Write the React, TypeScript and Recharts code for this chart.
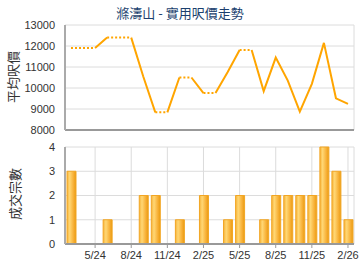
import React from 'react';
import { LineChart, Line, BarChart, Bar, XAxis, YAxis, CartesianGrid } from 'recharts';

const months = ['3/24','4/24','5/24','6/24','7/24','8/24','9/24','10/24','11/24','12/24','1/25','2/25','3/25','4/25','5/25','6/25','7/25','8/25','9/25','10/25','11/25','12/25','1/26','2/26'];
const prices = [11900,11900,11900,12400,12400,12400,10550,8840,8840,10500,10500,9760,9760,10750,11810,11810,9850,11450,10350,8870,10200,12150,9510,9240];
const counts = [3,0,0,1,0,0,2,2,0,1,0,2,0,1,2,0,1,2,2,2,2,4,3,1];
const xTicks = ['5/24','8/24','11/24','2/25','5/25','8/25','11/25','2/26'];
const priceTicks = [8000,9000,10000,11000,12000,13000];
const countTicks = [0,1,2,3,4];
const title = '滌濤山 - 實用呎價走勢';
const priceLabel = '平均呎價';
const countLabel = '成交宗數';

// Build segment series: segment i->i+1 dotted when month i+1 has no transactions.
function buildData() {
  const rows: any[] = months.map((m, i) => ({ month: m, count: counts[i], s0: null, s1: null, d0: null, d1: null }));
  let runStart = 0;
  let solidIdx = 0;
  let dotIdx = 0;
  const n = months.length;
  const isDot = (i: number) => counts[i + 1] === 0;
  for (let i = 0; i < n - 1; i++) {
    const end = i === n - 2 || isDot(i + 1) !== isDot(i);
    if (end) {
      const dotted = isDot(i);
      const key = dotted ? 'd' + (dotIdx++ % 2) : 's' + (solidIdx++ % 2);
      for (let k = runStart; k <= i + 1; k++) rows[k][key] = prices[k];
      runStart = i + 1;
    }
  }
  return rows;
}
const data = buildData();

const font = '"Liberation Sans", Arial, sans-serif';
const cjk = '"Noto Sans CJK TC", "Noto Sans", sans-serif';
const tickStyle = { fontSize: 11, fill: '#333', fontFamily: font };
const orange = '#FFA500';

export default function App() {
  return (
    <div style={{ position: 'absolute', left: 0, top: 0, width: 360, height: 270, background: '#fff', overflow: 'hidden' }}>
      <div style={{ position: 'absolute', left: 0, top: 5, width: 360, textAlign: 'center', fontFamily: cjk, fontSize: 13, color: '#1B3F6E', lineHeight: '16px' }}>{title}</div>
      <div style={{ position: 'absolute', left: 13, top: 77, transform: 'translate(-50%,-50%) rotate(-90deg)', fontFamily: cjk, fontSize: 13, color: '#333', whiteSpace: 'nowrap', lineHeight: '14px' }}>{priceLabel}</div>
      <div style={{ position: 'absolute', left: 15, top: 194, transform: 'translate(-50%,-50%) rotate(-90deg)', fontFamily: cjk, fontSize: 13, color: '#333', whiteSpace: 'nowrap', lineHeight: '14px' }}>{countLabel}</div>
      <div style={{ position: 'absolute', left: 0, top: 0 }}>
        <LineChart width={360} height={140} data={data} margin={{ top: 25, right: 6, bottom: 0, left: 0 }}>
          <CartesianGrid stroke="#dcdcdc" strokeWidth={1} />
          <XAxis dataKey="month" ticks={xTicks} tick={false} tickLine={false} height={10} padding={{ left: 6, right: 6 }} axisLine={{ stroke: '#999', strokeWidth: 2 }} />
          <YAxis domain={[8000, 13000]} ticks={priceTicks} width={65} tickSize={0} tickMargin={10} tick={tickStyle} axisLine={{ stroke: '#aaa', strokeWidth: 2 }} interval={0} />
          <Line dataKey="s0" stroke={orange} strokeWidth={2} dot={false} isAnimationActive={false} connectNulls={false} />
          <Line dataKey="s1" stroke={orange} strokeWidth={2} dot={false} isAnimationActive={false} connectNulls={false} />
          <Line dataKey="d0" stroke={orange} strokeWidth={2} strokeDasharray="2 2" dot={false} isAnimationActive={false} connectNulls={false} />
          <Line dataKey="d1" stroke={orange} strokeWidth={2} strokeDasharray="2 2" dot={false} isAnimationActive={false} connectNulls={false} />
        </LineChart>
      </div>
      <div style={{ position: 'absolute', left: 0, top: 140 }}>
        <BarChart width={360} height={130} data={data} margin={{ top: 7, right: 6, bottom: 0, left: 0 }}>
          <defs>
            <linearGradient id="barGrad" x1="0" y1="0" x2="1" y2="0">
              <stop offset="0%" stopColor="#F6B33A" />
              <stop offset="30%" stopColor="#FFD774" />
              <stop offset="70%" stopColor="#F8B23A" />
              <stop offset="100%" stopColor="#E99A10" />
            </linearGradient>
          </defs>
          <CartesianGrid stroke="#dcdcdc" strokeWidth={1} />
          <XAxis dataKey="month" ticks={xTicks} interval={0} height={26} tickSize={4} tickMargin={3} tick={tickStyle} tickLine={{ stroke: '#999' }} axisLine={{ stroke: '#999', strokeWidth: 2 }} />
          <YAxis domain={[0, 4]} ticks={countTicks} width={65} tickSize={0} tickMargin={10} tick={tickStyle} axisLine={{ stroke: '#aaa', strokeWidth: 2 }} interval={0} allowDecimals={false} />
          <Bar dataKey="count" barSize={9} fill="url(#barGrad)" stroke="#F2A624" strokeWidth={1} isAnimationActive={false} />
        </BarChart>
      </div>
    </div>
  );
}
